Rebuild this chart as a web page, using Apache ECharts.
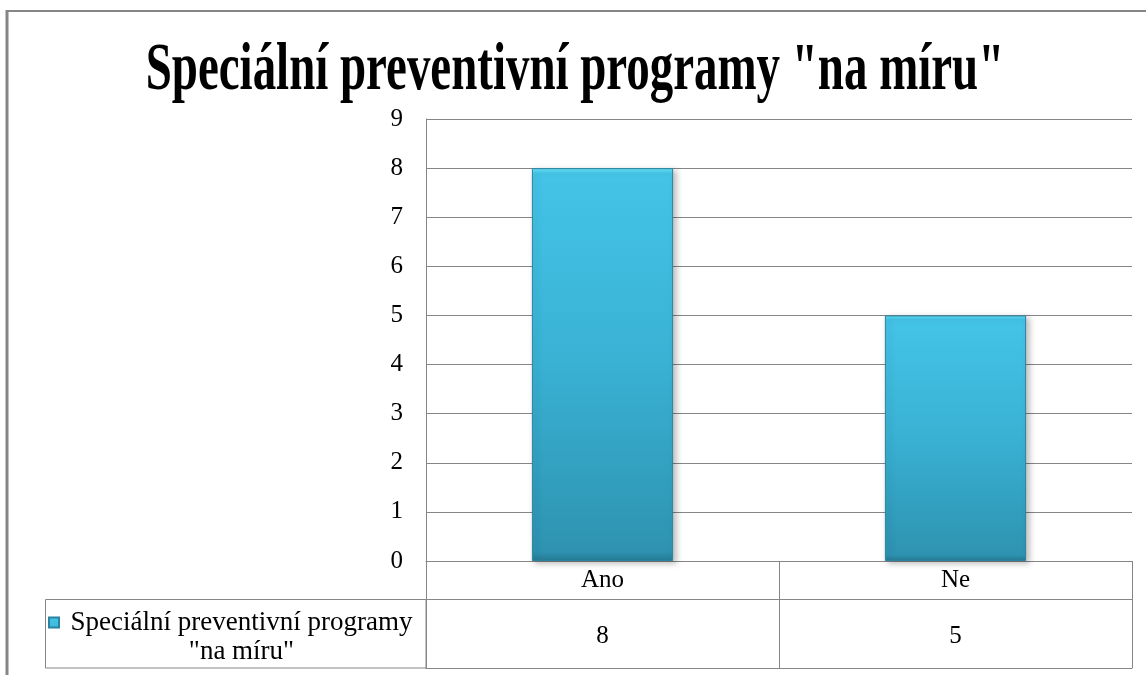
<!DOCTYPE html>
<html>
<head>
<meta charset="utf-8">
<script src="https://cdn.jsdelivr.net/npm/echarts@6/dist/echarts.min.js"></script>
<style>html,body{margin:0;padding:0;background:#fff}#c{width:1146px;height:675px}</style>
</head>
<body>
<div id="c"></div>
<script>
const titleText = 'Speciální preventivní programy "na míru"';
const seriesName = 'Speciální preventivní programy "na míru"';
const categories = ['Ano', 'Ne'];
const values = [8, 5];
const yTicks = { min: 0, max: 9, interval: 1 };

const chart = echarts.init(document.getElementById('c'), null, { renderer: 'canvas' });
const serif = '"Liberation Serif", "Times New Roman", serif';
const lineColor = '#868686';

chart.setOption({
  animation: false,
  backgroundColor: '#fff',
  grid: { left: 426, right: 14, top: 119, bottom: 114 },
  legend: {
    show: true,
    left: 48, top: 609, padding: 0,
    itemWidth: 10, itemHeight: 39, itemGap: 2,
    icon: 'path://M0,0h10v10h-10z M0,39',
    formatter: function (n) {
      const i = n.indexOf(' "');
      return '{a|' + n.slice(0, i) + '}\n{a|' + n.slice(i + 1) + '}';
    },
    textStyle: {
      rich: {
        a: { width: 355, align: 'center', fontFamily: serif, fontSize: 27, lineHeight: 29, color: '#000' }
      }
    },
    data: [seriesName]
  },
  xAxis: [
    {
      type: 'category', data: categories, position: 'bottom',
      axisLine: { show: true, lineStyle: { color: lineColor, width: 1 } },
      axisTick: { show: true, length: 107, alignWithLabel: false, lineStyle: { color: lineColor, width: 1 } },
      axisLabel: { margin: 7, fontFamily: serif, fontSize: 25, color: '#000' },
      splitLine: { show: false }
    },
    {
      type: 'category', data: values.map(String), position: 'bottom', offset: 38,
      axisLine: { show: true, lineStyle: { color: lineColor, width: 1 } },
      axisTick: { show: false },
      axisLabel: { margin: 25, fontFamily: serif, fontSize: 25, color: '#000' }
    },
    {
      type: 'category', data: categories, position: 'bottom', offset: 107,
      axisLine: { show: true, lineStyle: { color: lineColor, width: 1 } },
      axisTick: { show: false },
      axisLabel: { show: false }
    }
  ],
  yAxis: {
    type: 'value', min: yTicks.min, max: yTicks.max, interval: yTicks.interval,
    axisLine: { show: true, lineStyle: { color: lineColor, width: 1 } },
    axisTick: { show: false },
    axisLabel: { margin: 23, fontFamily: serif, fontSize: 25, color: '#000' },
    splitLine: { show: true, lineStyle: { color: lineColor, width: 1 } }
  },
  series: [{
    name: seriesName,
    type: 'bar',
    data: values,
    barWidth: '40%',
    itemStyle: {
      color: new echarts.graphic.LinearGradient(0, 0, 0, 1, [
        { offset: 0, color: '#6ae4fa' },
        { offset: 0.015, color: '#44c4e8' },
        { offset: 0.5, color: '#39b1d3' },
        { offset: 0.975, color: '#2e93b1' },
        { offset: 1, color: '#267c96' }
      ]),
      borderColor: '#2a84a0',
      borderWidth: 1,
      shadowColor: 'rgba(0,0,0,0.25)',
      shadowBlur: 6,
      shadowOffsetX: 3,
      shadowOffsetY: 2
    }
  }],
  graphic: [
    { type: 'line', shape: { x1: 7, y1: 11, x2: 1146, y2: 11 }, style: { stroke: lineColor, lineWidth: 2 } },
    { type: 'line', shape: { x1: 7, y1: 10, x2: 7, y2: 675 }, style: { stroke: lineColor, lineWidth: 3 } },
    { type: 'rect', shape: { x: 45.5, y: 599.5, width: 380.5, height: 68.5 }, style: { fill: 'none', stroke: lineColor, lineWidth: 1 } },
    {
      type: 'text', x: 575, y: 71, scaleX: 0.69,
      style: { text: titleText, font: 'bold 68px ' + serif, fill: '#000', textAlign: 'center', textVerticalAlign: 'middle' }
    }
  ]
});
</script>
</body>
</html>
